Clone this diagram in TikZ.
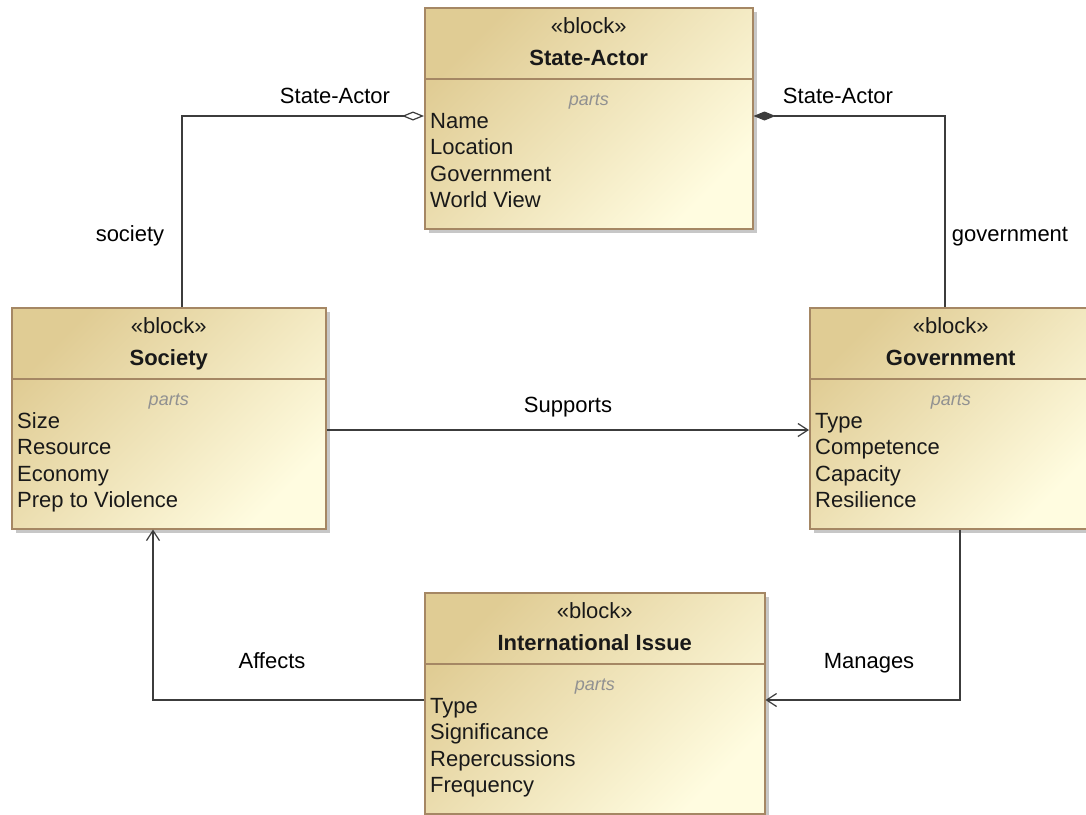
\documentclass[tikz,border=0pt]{standalone}
\usepackage{fontspec}
\setmainfont{Liberation Sans}
\usetikzlibrary{arrows.meta,calc,shadows}
\definecolor{boxA}{RGB}{224,204,148}
\definecolor{boxB}{RGB}{255,252,224}
\definecolor{boxline}{RGB}{165,135,100}
\definecolor{conn}{RGB}{60,60,60}
\definecolor{partsgray}{RGB}{145,145,145}
\newcommand\umlblock[9]{%
  \node[blockbox, minimum width=#4pt, anchor=north west] (#1) at (#2,#3) {};
  \draw[blockline] ($(#1.north west)+(0,72)$) -- ($(#1.north east)+(0,72)$);
  \node[txt, anchor=base] (#1-st) at ($(#1.north)+(0,26)$) {«block»};
  \node[txt, font=\fontsize{22}{26}\selectfont\bfseries, anchor=base] (#1-t) at ($(#1.north)+(0,58)$) {#5};
  \node[partstxt, anchor=base] (#1-p) at ($(#1.north)+(0,98)$) {parts};
  \node[txt, anchor=base west] (#1-a) at ($(#1.north west)+(6,121)$) {#6};
  \node[txt, anchor=base west] (#1-b) at ($(#1.north west)+(6,147.5)$) {#7};
  \node[txt, anchor=base west] (#1-c) at ($(#1.north west)+(6,174)$) {#8};
  \node[txt, anchor=base west] (#1-d) at ($(#1.north west)+(6,200)$) {#9};
}
\begin{document}
\begin{tikzpicture}[x=1pt,y=-1pt,
  blockbox/.style={draw=boxline, line width=1.5pt, inner sep=0pt, minimum height=221pt,
    top color=boxA, bottom color=boxB, shading angle=45,
    drop shadow={shadow xshift=4pt, shadow yshift=-4pt, fill=black!40, opacity=0.55}},
  blockline/.style={draw=boxline, line width=1.5pt},
  txt/.style={inner sep=0pt, font=\fontsize{22}{26}\selectfont, text=black!90},
  partstxt/.style={inner sep=0pt, font=\fontsize{18}{22}\selectfont\itshape, text=partsgray},
  lbl/.style={inner sep=0pt, font=\fontsize{22}{26}\selectfont, anchor=base},
  conline/.style={draw=conn, line width=1.2pt},
  openarrow/.style={conline, -{Straight Barb[length=10pt,width=13pt,line width=1.2pt]}},
  aggr/.style={conline, -{Diamond[length=22pt,width=9pt,fill=white,line width=1.2pt]}},
  compo/.style={conline, -{Diamond[length=22pt,width=9pt,line width=1.2pt]}}
]
\useasboundingbox (0,0) rectangle (1086,814);
\fill[white] (0,0) rectangle (1086,814);

\umlblock{sa}{424}{7}{328}{State-Actor}{Name}{Location}{Government}{World View}
\umlblock{soc}{11}{307}{314}{Society}{Size}{Resource}{Economy}{Prep to Violence}
\umlblock{gov}{809}{307}{282}{Government}{Type}{Competence}{Capacity}{Resilience}
\umlblock{ii}{424}{592}{340}{International Issue}{Type}{Significance}{Repercussions}{Frequency}

\coordinate (c1) at (182,116);
\coordinate (c2) at (945,116);
\coordinate (c3) at (0,430);
\coordinate (c4) at (960,700);
\coordinate (c5) at (153,700);

\draw[aggr] (c1 |- soc.north) -- (c1) -- (c1 -| sa.west);
\draw[compo] (c2 |- gov.north) -- (c2) -- (c2 -| sa.east);
\draw[openarrow] (c3 -| soc.east) -- (c3 -| gov.west);
\draw[openarrow] (c4 |- gov.south) -- (c4) -- (c4 -| ii.east);
\draw[openarrow] (c5 -| ii.west) -- (c5) -- (c5 |- soc.south);

\node[lbl] (l1) at (335,103) {State-Actor};
\node[lbl] (l2) at (130,241) {society};
\node[lbl] (l3) at (838,103) {State-Actor};
\node[lbl] (l4) at (1010,241) {government};
\node[lbl] (l5) at (568,412) {Supports};
\node[lbl] (l6) at (869,668) {Manages};
\node[lbl] (l7) at (272,668) {Affects};
\end{tikzpicture}
\end{document}
